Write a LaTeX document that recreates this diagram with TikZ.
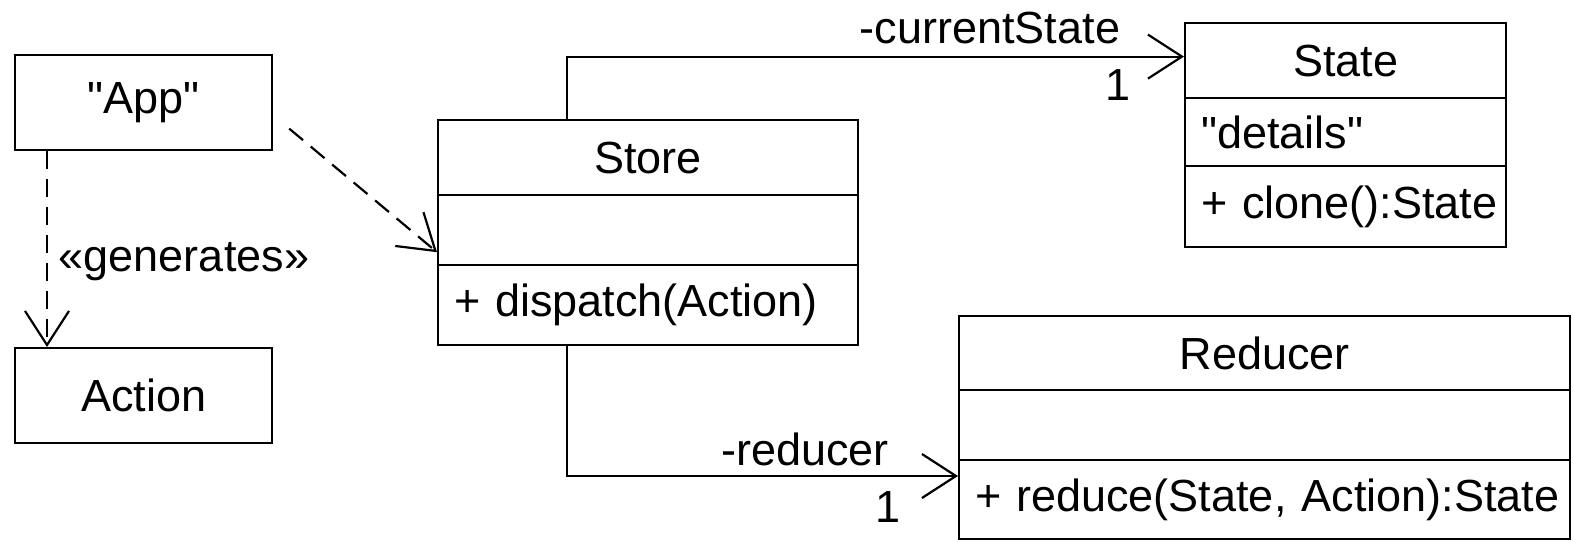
\documentclass[tikz,border=0pt]{standalone}
\usepackage{fontspec}
\setmainfont{Liberation Sans}
\usetikzlibrary{arrows.meta,calc}

\tikzset{
	part/.style={draw, line width=2.2pt, anchor=north west, inner sep=0pt},
	ops/.style={align=left, inner xsep=16pt, text width=#1},
	lbl/.style={inner sep=0pt},
	assoc/.style={line width=2.2pt, -{Straight Barb[length=34pt,width=44pt]}},
	dep/.style={assoc, dash pattern=on 18pt off 10pt}
}

\begin{document}
\begin{tikzpicture}[x=1pt, y=-1pt, font=\fontsize{45}{54}\selectfont]
	\useasboundingbox (0,0) rectangle (1574,541);

	% left side
	\node[part, minimum width=257pt, minimum height=95pt] (app) at (14,54) {\textquotedbl App\textquotedbl};
	\node[part, minimum width=257pt, minimum height=95pt] (action) at (14,347) {Action};

	% Store
	\node[part, minimum width=420pt, minimum height=75pt] (storename) at (437,119) {Store};
	\node[part, minimum width=420pt, minimum height=70pt] (storeattr) at (437,194) {};
	\node[part, ops=388pt, minimum width=420pt, minimum height=80pt] (storeops) at (437,264) {\mbox{+ dispatch(Action)}};

	% State
	\node[part, minimum width=321pt, minimum height=75pt] (statename) at (1184,22) {State};
	\node[part, ops=289pt, minimum width=321pt, minimum height=68pt] (stateattr) at (1184,97) {\mbox{\textquotedbl details\textquotedbl}};
	\node[part, ops=289pt, minimum width=321pt, minimum height=81pt] (stateops) at (1184,165) {\mbox{+ clone():State}};

	% Reducer
	\node[part, minimum width=611pt, minimum height=74pt] (reducername) at (958,315) {Reducer};
	\node[part, minimum width=611pt, minimum height=70pt] (reducerattr) at (958,389) {};
	\node[part, ops=579pt, minimum width=611pt, minimum height=79pt] (reducerops) at (958,459) {\mbox{+ reduce(State, Action):State}};

	% dependencies
	\draw[dep] ($(app.south west)+(33,0)$) -- ($(action.north west)+(33,0)$);
	\node[lbl] (gen) at (184,262) {«generates»};
	\draw[dep] ($(app.east)+(16,26)$) -- ($(storeattr.south west)+(0,-14)$);

	% associations
	\draw[assoc] ($(storename.north west)+(130,0)$) |- ($(statename.west)+(0,-4)$);
	\node[lbl] (curlbl) at (990,28) {-currentState};
	\node[lbl] (curmult) at (1118,85) {1};

	\draw[assoc] ($(storeops.south west)+(130,0)$) |- ($(reducerops.north west)+(0,17)$);
	\node[lbl] (redlbl) at (805,449) {-reducer};
	\node[lbl] (redmult) at (888,507) {1};
\end{tikzpicture}
\end{document}
